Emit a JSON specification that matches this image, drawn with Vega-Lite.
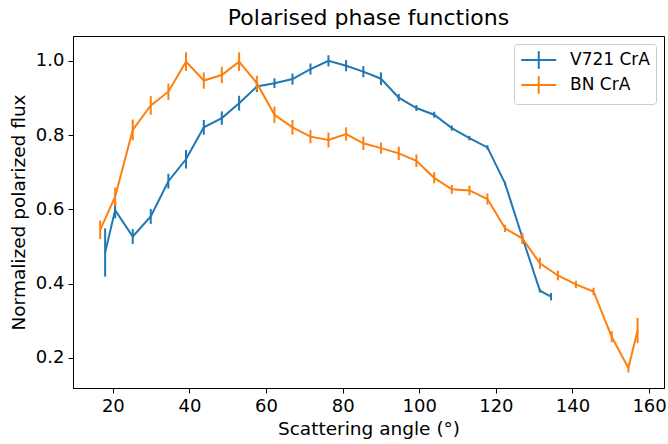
{
  "$schema": "https://vega.github.io/schema/vega-lite/v6.json",
  "width": 591,
  "height": 352,
  "autosize": "none",
  "padding": {"left": 73, "top": 36, "right": 4, "bottom": 56},
  "background": "white",
  "title": {"text": "Polarised phase functions", "fontSize": 22, "font": "DejaVu Sans", "fontWeight": "normal", "color": "black", "offset": 6, "anchor": "middle"},
  "config": {
    "font": "DejaVu Sans",
    "view": {"stroke": "black", "strokeWidth": 1},
    "axis": {"grid": false, "domainColor": "black", "tickColor": "black", "labelColor": "black", "titleColor": "black", "labelFontSize": 18, "titleFontSize": 18.5, "titleFontWeight": "normal", "tickSize": 5, "labelPadding": 4}
  },
  "data": {"values": [
    {"angle": 17.99, "flux": 0.484, "err": 0.065, "source": "V721 CrA"},
    {"angle": 20.6, "flux": 0.598, "err": 0.022, "source": "V721 CrA"},
    {"angle": 25.2, "flux": 0.527, "err": 0.02, "source": "V721 CrA"},
    {"angle": 29.9, "flux": 0.581, "err": 0.02, "source": "V721 CrA"},
    {"angle": 34.5, "flux": 0.676, "err": 0.02, "source": "V721 CrA"},
    {"angle": 39.1, "flux": 0.735, "err": 0.025, "source": "V721 CrA"},
    {"angle": 43.75, "flux": 0.821, "err": 0.02, "source": "V721 CrA"},
    {"angle": 48.45, "flux": 0.846, "err": 0.018, "source": "V721 CrA"},
    {"angle": 52.97, "flux": 0.886, "err": 0.02, "source": "V721 CrA"},
    {"angle": 57.6, "flux": 0.931, "err": 0.015, "source": "V721 CrA"},
    {"angle": 62.2, "flux": 0.94, "err": 0.013, "source": "V721 CrA"},
    {"angle": 66.9, "flux": 0.951, "err": 0.015, "source": "V721 CrA"},
    {"angle": 71.6, "flux": 0.978, "err": 0.015, "source": "V721 CrA"},
    {"angle": 76.3, "flux": 1.0, "err": 0.015, "source": "V721 CrA"},
    {"angle": 80.9, "flux": 0.987, "err": 0.015, "source": "V721 CrA"},
    {"angle": 85.4, "flux": 0.971, "err": 0.015, "source": "V721 CrA"},
    {"angle": 90.0, "flux": 0.952, "err": 0.017, "source": "V721 CrA"},
    {"angle": 94.65, "flux": 0.901, "err": 0.01, "source": "V721 CrA"},
    {"angle": 99.25, "flux": 0.873, "err": 0.008, "source": "V721 CrA"},
    {"angle": 103.9, "flux": 0.855, "err": 0.008, "source": "V721 CrA"},
    {"angle": 108.5, "flux": 0.819, "err": 0.007, "source": "V721 CrA"},
    {"angle": 113.1, "flux": 0.792, "err": 0.006, "source": "V721 CrA"},
    {"angle": 117.8, "flux": 0.767, "err": 0.006, "source": "V721 CrA"},
    {"angle": 122.4, "flux": 0.67, "err": 0.005, "source": "V721 CrA"},
    {"angle": 126.9, "flux": 0.525, "err": 0.005, "source": "V721 CrA"},
    {"angle": 131.5, "flux": 0.381, "err": 0.005, "source": "V721 CrA"},
    {"angle": 134.4, "flux": 0.365, "err": 0.01, "source": "V721 CrA"},
    {"angle": 16.7, "flux": 0.545, "err": 0.025, "source": "BN CrA"},
    {"angle": 20.6, "flux": 0.634, "err": 0.025, "source": "BN CrA"},
    {"angle": 25.2, "flux": 0.814, "err": 0.028, "source": "BN CrA"},
    {"angle": 29.9, "flux": 0.88, "err": 0.025, "source": "BN CrA"},
    {"angle": 34.5, "flux": 0.917, "err": 0.022, "source": "BN CrA"},
    {"angle": 39.1, "flux": 0.998, "err": 0.025, "source": "BN CrA"},
    {"angle": 43.75, "flux": 0.947, "err": 0.022, "source": "BN CrA"},
    {"angle": 48.45, "flux": 0.962, "err": 0.022, "source": "BN CrA"},
    {"angle": 52.97, "flux": 0.998, "err": 0.025, "source": "BN CrA"},
    {"angle": 57.6, "flux": 0.94, "err": 0.02, "source": "BN CrA"},
    {"angle": 62.2, "flux": 0.855, "err": 0.022, "source": "BN CrA"},
    {"angle": 66.9, "flux": 0.821, "err": 0.02, "source": "BN CrA"},
    {"angle": 71.6, "flux": 0.796, "err": 0.018, "source": "BN CrA"},
    {"angle": 76.3, "flux": 0.787, "err": 0.02, "source": "BN CrA"},
    {"angle": 80.9, "flux": 0.803, "err": 0.018, "source": "BN CrA"},
    {"angle": 85.4, "flux": 0.778, "err": 0.018, "source": "BN CrA"},
    {"angle": 90.0, "flux": 0.765, "err": 0.015, "source": "BN CrA"},
    {"angle": 94.65, "flux": 0.751, "err": 0.018, "source": "BN CrA"},
    {"angle": 99.25, "flux": 0.731, "err": 0.017, "source": "BN CrA"},
    {"angle": 103.9, "flux": 0.685, "err": 0.015, "source": "BN CrA"},
    {"angle": 108.5, "flux": 0.654, "err": 0.012, "source": "BN CrA"},
    {"angle": 113.1, "flux": 0.651, "err": 0.013, "source": "BN CrA"},
    {"angle": 117.8, "flux": 0.628, "err": 0.015, "source": "BN CrA"},
    {"angle": 122.4, "flux": 0.549, "err": 0.01, "source": "BN CrA"},
    {"angle": 126.9, "flux": 0.522, "err": 0.015, "source": "BN CrA"},
    {"angle": 131.5, "flux": 0.455, "err": 0.015, "source": "BN CrA"},
    {"angle": 136.2, "flux": 0.422, "err": 0.013, "source": "BN CrA"},
    {"angle": 140.9, "flux": 0.398, "err": 0.01, "source": "BN CrA"},
    {"angle": 145.5, "flux": 0.379, "err": 0.01, "source": "BN CrA"},
    {"angle": 150.25, "flux": 0.257, "err": 0.015, "source": "BN CrA"},
    {"angle": 154.6, "flux": 0.173, "err": 0.012, "source": "BN CrA"},
    {"angle": 157.0, "flux": 0.274, "err": 0.034, "source": "BN CrA"}
  ]},
  "encoding": {
    "x": {"field": "angle", "type": "quantitative", "scale": {"domain": [9.6, 163.9], "nice": false, "zero": false}, "axis": {"values": [20, 40, 60, 80, 100, 120, 140, 160], "title": "Scattering angle (°)", "titlePadding": 4}},
    "color": {"field": "source", "type": "nominal", "scale": {"domain": ["V721 CrA", "BN CrA"], "range": ["#1f77b4", "#ff7f0e"]},
      "legend": {"title": null, "orient": "top-right", "offset": 8, "padding": 6, "strokeColor": "#cccccc", "fillColor": "white", "cornerRadius": 3, "labelFontSize": 17, "labelColor": "black", "symbolType": "M-1,0H3M1,-1V1", "symbolSize": 306, "symbolStrokeWidth": 2, "labelOffset": 30, "rowPadding": -1}}
  },
  "layer": [
    {
      "mark": {"type": "line", "strokeWidth": 2},
      "encoding": {
        "y": {"field": "flux", "type": "quantitative", "title": "Normalized polarized flux", "scale": {"domain": [0.119, 1.067], "nice": false, "zero": false}, "axis": {"values": [0.2, 0.4, 0.6, 0.8, 1.0], "format": ".1f", "title": "Normalized polarized flux", "titlePadding": 7}}
      }
    },
    {
      "mark": {"type": "errorbar", "thickness": 2},
      "encoding": {
        "y": {"field": "flux", "type": "quantitative", "title": "Normalized polarized flux"},
        "yError": {"field": "err"}
      }
    }
  ]
}
